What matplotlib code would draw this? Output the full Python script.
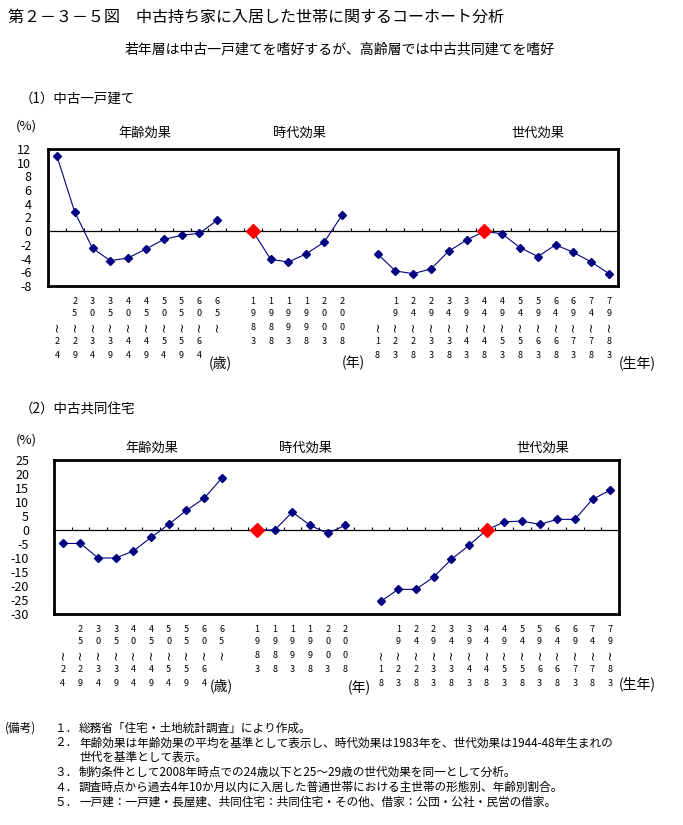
import numpy as np
import matplotlib.pyplot as plt
from matplotlib.transforms import blended_transform_factory

plt.rcParams['font.family'] = ['Noto Sans CJK JP', 'DejaVu Sans']
plt.rcParams['axes.unicode_minus'] = False

W, H = 683, 825

# category labels
age_labels = ["～24", "25～29", "30～34", "35～39", "40～44", "45～49",
              "50～54", "55～59", "60～64", "65～"]
period_labels = ["1983", "1988", "1993", "1998", "2003", "2008"]
cohort_labels = ["～18", "19～23", "24～28", "29～33", "34～38", "39～43", "44～48",
                 "49～53", "54～58", "59～63", "64～68", "69～73", "74～78", "79～83"]

# (1) 中古一戸建て  (%)
detached_age = [11.0, 2.8, -2.5, -4.3, -3.9, -2.6, -1.2, -0.6, -0.3, 1.6]
detached_period = [0.0, -4.1, -4.5, -3.3, -1.6, 2.3]
detached_cohort = [-3.3, -5.8, -6.2, -5.5, -2.9, -1.3, 0.0, -0.4, -2.4, -3.7,
                   -2.0, -3.1, -4.5, -6.2]

# (2) 中古共同住宅  (%)
condo_age = [-4.8, -4.8, -10.0, -10.0, -7.5, -2.6, 2.0, 7.0, 11.3, 18.5]
condo_period = [0.0, 0.0, 6.4, 1.7, -1.2, 1.7]
condo_cohort = [-25.5, -21.2, -21.2, -16.8, -10.5, -5.5, 0.0, 2.9, 3.2, 2.0,
                3.8, 3.8, 11.0, 14.2]

base_period = "1983"
base_cohort = "44～48"

notes = [
    ("(備考)", "１．", "総務省「住宅・土地統計調査」により作成。"),
    ("", "２．", "年齢効果は年齢効果の平均を基準として表示し、時代効果は1983年を、世代効果は1944-48年生まれの"),
    ("", "", "世代を基準として表示。"),
    ("", "３．", "制約条件として2008年時点での24歳以下と25～29歳の世代効果を同一として分析。"),
    ("", "４．", "調査時点から過去4年10か月以内に入居した普通世帯における主世帯の形態別、年齢別割合。"),
    ("", "５．", "一戸建：一戸建・長屋建、共同住宅：共同住宅・その他、借家：公団・公社・民営の借家。"),
]

NAVY = "#000080"
RED = "#ff0000"


def fx(x):
    return x / W


def fy(y):
    return 1 - y / H


def put_stacked(fig, ax, x, label, bottom_px, period=False):
    """ Write a category label vertically, one character per row """
    tr = blended_transform_factory(ax.transData, fig.transFigure)
    kw = dict(transform=tr, ha="center", va="center", fontsize=6.5)
    if period:
        for ch, off in zip(label, [15, 28, 42, 56]):
            fig.text(x, fy(bottom_px + off), ch, **kw)
        return
    top, bottom = label.split("～")
    top_rows = [15, 28][2 - len(top):]
    for ch, off in zip(top, top_rows):
        fig.text(x, fy(bottom_px + off), ch, **kw)
    fig.text(x, fy(bottom_px + 41), "~", rotation=90, transform=tr,
             ha="center", va="center", fontsize=9, family="DejaVu Sans")
    for ch, off in zip(bottom, [56, 70]):
        fig.text(x, fy(bottom_px + off), ch, **kw)


def draw_panel(fig, box, ylim, ystep, age, period, cohort, pad):
    left, top, right, bottom = box
    ax = fig.add_axes([fx(left), fy(bottom), fx(right - left), (bottom - top) / H])
    n_age, n_per, n_coh = len(age), len(period), len(cohort)
    x_age = np.arange(n_age)
    x_per = np.arange(n_per) + n_age + 1
    x_coh = np.arange(n_coh) + n_age + n_per + 2
    n_slots = n_age + n_per + n_coh + 2

    for xs, ys in [(x_age, age), (x_per, period), (x_coh, cohort)]:
        ax.plot(xs, ys, color=NAVY, lw=0.8, marker="D", ms=4.5,
                markerfacecolor=NAVY, markeredgecolor=NAVY, zorder=3)

    i_p = period_labels.index(base_period)
    i_c = cohort_labels.index(base_cohort)
    ax.plot([x_per[i_p], x_coh[i_c]], [period[i_p], cohort[i_c]], ls="none",
            marker="D", ms=7.5, color=RED, zorder=4)

    ax.axhline(0, color="black", lw=0.9, zorder=2)
    # small tick marks on the zero line at the category boundaries
    tick_h = 3 * (ylim[1] - ylim[0]) / (bottom - top)
    ax.vlines(np.arange(0.5, n_slots - 1, 1), 0, tick_h, color="black", lw=0.8)

    ax.set_xlim(-0.5, n_slots - 0.5)
    ax.set_ylim(*ylim)
    ax.set_xticks([])
    ax.set_yticks(np.arange(ylim[0], ylim[1] + 1, ystep))
    ax.tick_params(axis="y", length=0, pad=pad, labelsize=9)
    for s in ax.spines.values():
        s.set_linewidth(2)

    for x, lab in zip(x_age, age_labels):
        put_stacked(fig, ax, x, lab, bottom)
    for x, lab in zip(x_per, period_labels):
        put_stacked(fig, ax, x, lab, bottom, period=True)
    for x, lab in zip(x_coh, cohort_labels):
        put_stacked(fig, ax, x, lab, bottom)
    return ax


fig = plt.figure(figsize=(W / 100, H / 100), dpi=100)

fig.text(fx(8), fy(17), "第２－３－５図　中古持ち家に入居した世帯に関するコーホート分析",
         fontsize=11.5, va="center", ha="left")
fig.text(fx(340), fy(49), "若年層は中古一戸建てを嗜好するが、高齢層では中古共同建てを嗜好",
         fontsize=10, va="center", ha="center")

# panel (1)
fig.text(fx(20), fy(99), "（1）中古一戸建て", fontsize=9.7, va="center")
fig.text(fx(16), fy(126), "(%)", fontsize=9.5, va="center")
for x, t in [(145, "年齢効果"), (300, "時代効果"), (538, "世代効果")]:
    fig.text(fx(x), fy(133), t, fontsize=9.5, ha="center", va="center")
draw_panel(fig, (48, 149, 618, 286), (-8, 12), 2,
           detached_age, detached_period, detached_cohort, pad=12)
for x, t in [(209, "(歳)"), (342, "(年)"), (619, "(生年)")]:
    fig.text(fx(x), fy(363), t, fontsize=10, va="center")

# panel (2)
fig.text(fx(20), fy(410), "（2）中古共同住宅", fontsize=9.7, va="center")
fig.text(fx(16), fy(440), "(%)", fontsize=9.5, va="center")
for x, t in [(152, "年齢効果"), (305, "時代効果"), (543, "世代効果")]:
    fig.text(fx(x), fy(448), t, fontsize=9.5, ha="center", va="center")
draw_panel(fig, (54, 460, 619, 614), (-30, 25), 5,
           condo_age, condo_period, condo_cohort, pad=18)
for x, y, t in [(210, 686, "(歳)"), (348, 688, "(年)"), (619, 684, "(生年)")]:
    fig.text(fx(x), fy(y), t, fontsize=10, va="center")

# notes
for i, (head, num, body) in enumerate(notes):
    y = fy(728 + i * 14.8)
    if head:
        fig.text(fx(5), y, head, fontsize=8.4, va="center")
    if num:
        fig.text(fx(54), y, num, fontsize=8.4, va="center")
    fig.text(fx(79), y, body, fontsize=8.4, va="center")

fig.savefig("out.png", dpi=100)
